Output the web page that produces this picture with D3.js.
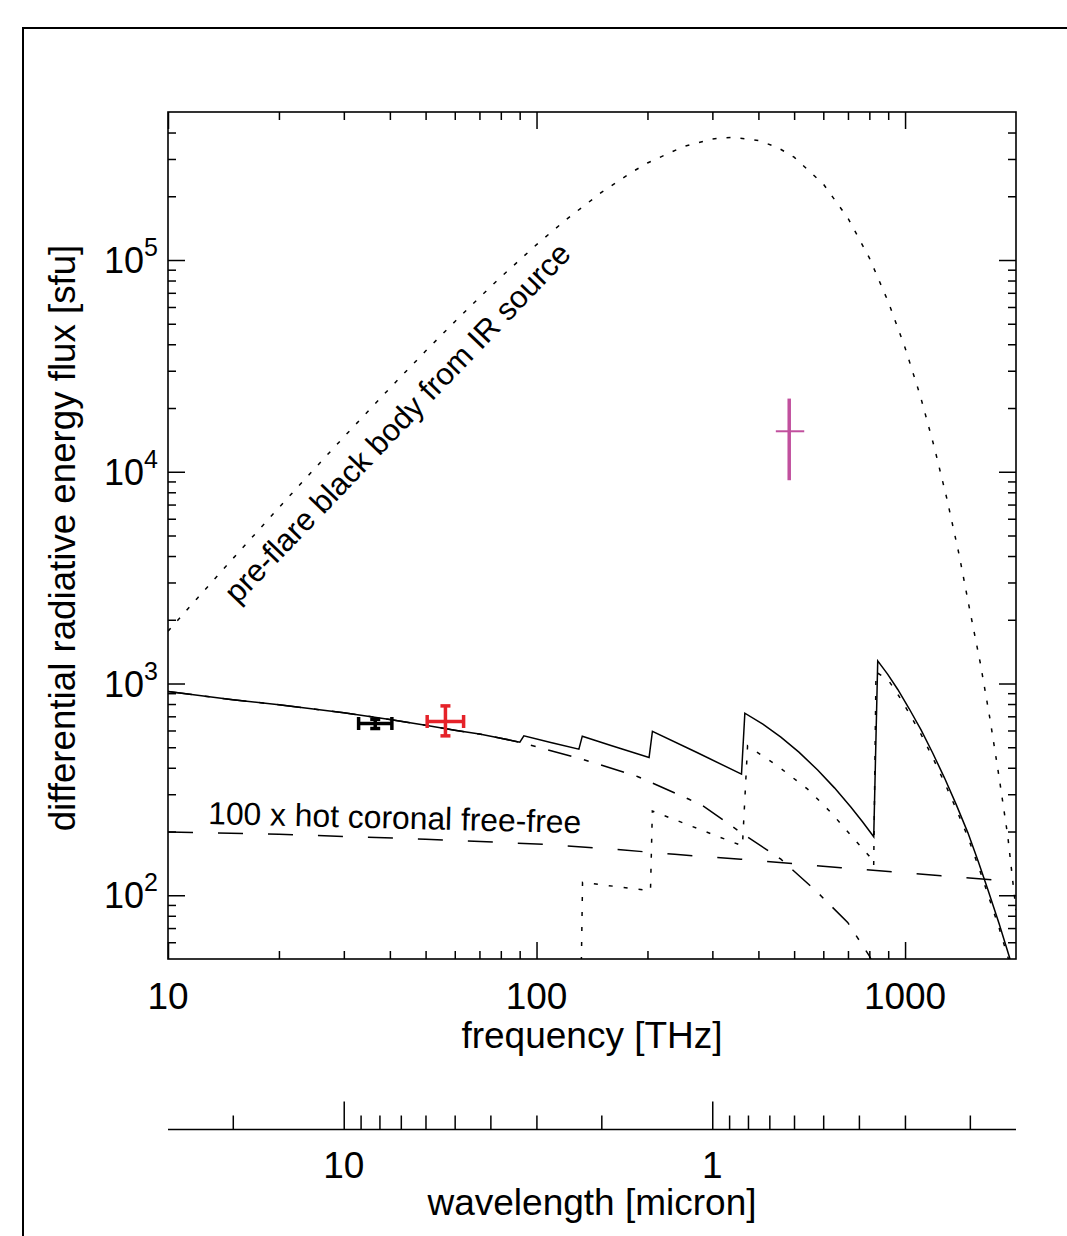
<!DOCTYPE html>
<html><head><meta charset="utf-8">
<script src="https://cdn.jsdelivr.net/npm/d3@7"></script>
<style>
html,body{margin:0;padding:0;background:#fff;}
svg{display:block;font-family:"Liberation Sans",Arial,Helvetica,sans-serif;}
</style></head><body>
<svg id="chart" width="1067" height="1236"></svg>
<script>
// ---- data (frequency in THz, flux in sfu) ----
const bbFreq = [10,12,15,20,25,30,40,50,60,70,80,100,120,150,180,200,250,300,340,400,450,500,600,700,800,900,1000,1100,1200,1300,1400,1500,1600,1700,1800,1900,2000];
const bbFlux = [1766,2522,3891,6771,10355,14594,24836,37140,51146,66538,83018,118168,154668,208578,257972,287086,342880,373045,379906,366847,340658,305983,228497,157562,102366,63549,38500,22800,13100,7400,4100,2200,1250,680,360,190,85];

const totFreq = [10,15,20,30,40,50,60,70,80,90.1,92.4,110,130.3,133.1,160,202,206.3,273.4,359.9,367.5,411.3,460.3,515.2,579.2,643.4,713.4,766.5,822.2,843,896.6,955.5,1025.4,1105,1187.6,1279,1376,1481,1579,1678,1800,1921,1990];
const totFlux = [917,838,794,728,676,635,602,577,552,528,566,525,490,564,508,447,595,471,373,724,643,558,474,390.5,321.5,260.3,222.3,188.9,1279,1107,937,762,603.4,470.9,358.6,268.7,197.1,144.9,106.3,73.4,50.8,40];

const ffFreq = [10,15,20,30,40,50,60,70,80,90.5,133.1,187.8,259.3,284.3,358.4,460.3,579.2,698.8,799.8,860];
const ffFlux = [917,838,794,728,676,635,602,577,552,527,439,364,284,263,198,148,103,74.4,51.7,40];

const bfFreq = [131.8,133.3,203.8,206.2,362,373.8,451,544,629.5,728.2,800,822,834,896.6,955.5,1025.4,1105,1187.6,1279,1376,1481,1579,1678,1800,1921,1990];
const bfFlux = [30,115,105,250,171,508,408,317,246,184,153,138,1131,1050,890,725,575,448,341,256,188,138,101,70,48,38];

const corFreq = [10,20,50,104.5,169.2,237,358.4,670,1252.5,1767,1800];
const corFlux = [199,194,184,174,164,156,148,135,123.5,118,117.5];

// observations
const obsFreq   = [36.5, 56.6, 484.9];
const obsFreqLo = [32.9, 50.5, 446];
const obsFreqHi = [40.5, 63.4, 532.6];
const obsFlux   = [647.5, 661.7, 15530];
const obsFluxLo = [613, 566, 9120];
const obsFluxHi = [678, 784, 22160];
const obsColor  = ["#000000", "#e52229", "#c1509e"];
const obsCaps   = [true, true, false];

// ticks
const xMajor = [10,100,1000];
const xMinor = [20,30,40,50,60,70,80,90,200,300,400,500,600,700,800,900];
const yMajor = [100,1000,10000,100000];
const yMinor = [60,70,80,90,200,300,400,500,600,700,800,900,2000,3000,4000,5000,6000,7000,8000,9000,20000,30000,40000,50000,60000,70000,80000,90000,200000,300000,400000];
const yExp = [2,3,4,5];
const lamMajor = [10,1];
const lamMinor = [20,9,8,7,6,5,4,3,2,0.9,0.8,0.7,0.6,0.5,0.4,0.3,0.2];
const lamLabels = ["10","1"];

// ---- drawing ----
const svg = d3.select("#chart");
const L=168, R=1016, T=112, B=959;
const x = d3.scaleLog().domain([10,2000]).range([L,R]);
const y = d3.scaleLog().domain([50,5e5]).range([B,T]);
const cTHz = 299.792458;
const xl = d3.scaleLog().domain([cTHz/10, cTHz/2000]).range([L,R]);

// outer frame
svg.append("path").attr("d","M23,1236V28H1067").attr("fill","none").attr("stroke","#000").attr("stroke-width",2);

// plot box
svg.append("rect").attr("x",L).attr("y",T).attr("width",R-L).attr("height",B-T)
  .attr("fill","none").attr("stroke","#000").attr("stroke-width",1.6);

function addAxis(gen, tr){
  const a = svg.append("g").attr("transform",tr).call(gen);
  a.select(".domain").remove();
  a.selectAll("text").remove();
  a.selectAll("line").attr("stroke","#000").attr("stroke-width",1.5);
}
addAxis(d3.axisBottom(x).tickValues(xMajor).tickSize(-17).tickSizeOuter(0), `translate(0,${B})`);
addAxis(d3.axisBottom(x).tickValues(xMinor).tickSize(-8).tickSizeOuter(0), `translate(0,${B})`);
addAxis(d3.axisTop(x).tickValues(xMajor).tickSize(-17).tickSizeOuter(0), `translate(0,${T})`);
addAxis(d3.axisTop(x).tickValues(xMinor).tickSize(-8).tickSizeOuter(0), `translate(0,${T})`);
addAxis(d3.axisLeft(y).tickValues(yMajor).tickSize(-17).tickSizeOuter(0), `translate(${L},0)`);
addAxis(d3.axisLeft(y).tickValues(yMinor).tickSize(-8).tickSizeOuter(0), `translate(${L},0)`);
addAxis(d3.axisRight(y).tickValues(yMajor).tickSize(-17).tickSizeOuter(0), `translate(${R},0)`);
addAxis(d3.axisRight(y).tickValues(yMinor).tickSize(-8).tickSizeOuter(0), `translate(${R},0)`);

// x tick labels
xMajor.forEach(v=>{
  svg.append("text").attr("x",x(v)).attr("y",1009).attr("text-anchor","middle")
    .attr("font-size",37).text(String(v));
});
svg.append("text").attr("x",(L+R)/2).attr("y",1047.5).attr("text-anchor","middle")
  .attr("font-size",37).text("frequency [THz]");

// y tick labels
yMajor.forEach((v,i)=>{
  const t = svg.append("text").attr("x",158).attr("y",y(v)+13).attr("text-anchor","end").attr("font-size",36);
  t.append("tspan").text("10");
  t.append("tspan").attr("dy",-17).attr("font-size",25).text(String(yExp[i]));
});
svg.append("text").attr("transform","translate(75,538) rotate(-90)").attr("text-anchor","middle")
  .attr("font-size",36.7).text("differential radiative energy flux [sfu]");

// wavelength axis
svg.append("line").attr("x1",L).attr("x2",R).attr("y1",1129.5).attr("y2",1129.5).attr("stroke","#000").attr("stroke-width",1.5);
addAxis(d3.axisTop(xl).tickValues(lamMajor).tickSize(28).tickSizeOuter(0), `translate(0,1129.5)`);
addAxis(d3.axisTop(xl).tickValues(lamMinor).tickSize(14).tickSizeOuter(0), `translate(0,1129.5)`);
lamMajor.forEach((v,i)=>{
  svg.append("text").attr("x",xl(v)).attr("y",1178).attr("text-anchor","middle").attr("font-size",37).text(lamLabels[i]);
});
svg.append("text").attr("x",(L+R)/2).attr("y",1215).attr("text-anchor","middle")
  .attr("font-size",37).text("wavelength [micron]");

// curves
svg.append("clipPath").attr("id","plotclip").append("rect").attr("x",L).attr("y",T).attr("width",R-L).attr("height",B-T);
const curves = svg.append("g").attr("clip-path","url(#plotclip)");
const line = d3.line().x(d=>x(d[0])).y(d=>y(d[1]));
function curve(fx, fy, dash, w){
  curves.append("path").datum(fx.map((f,i)=>[f,fy[i]])).attr("d",line)
    .attr("fill","none").attr("stroke","#000").attr("stroke-width",w)
    .attr("stroke-dasharray",dash);
}
curve(corFreq, corFlux, "25,25", 1.5);
curve(ffFreq, ffFlux, "24,13,5,13", 1.5);
curve(bfFreq, bfFlux, "4,11", 1.5);
curve(bbFreq, bbFlux, "4,10", 1.5);
curve(totFreq, totFlux, null, 1.5);

// labels inside plot
svg.append("text").attr("transform","translate(208,824) rotate(1.4)").attr("font-size",31.8)
  .text("100 x hot coronal free-free");
svg.append("text").attr("transform","translate(405,430) rotate(-46.2)").attr("text-anchor","middle")
  .attr("font-size",31).text("pre-flare black body from IR source");

// observations with error bars
const obs = svg.append("g");
obsFreq.forEach((f,i)=>{
  const c = obsColor[i];
  const cx = x(f), cy = y(obsFlux[i]);
  const x0 = x(obsFreqLo[i]), x1 = x(obsFreqHi[i]);
  const y0 = y(obsFluxLo[i]), y1 = y(obsFluxHi[i]);
  if (obsCaps[i]) {
    obs.append("line").attr("x1",x0).attr("x2",x1).attr("y1",cy).attr("y2",cy).attr("stroke",c).attr("stroke-width",3.5);
    obs.append("line").attr("x1",cx).attr("x2",cx).attr("y1",y0).attr("y2",y1).attr("stroke",c).attr("stroke-width",3.5);
    [x0,x1].forEach(xx=>obs.append("line").attr("x1",xx).attr("x2",xx).attr("y1",cy-6.5).attr("y2",cy+6.5).attr("stroke",c).attr("stroke-width",3.5));
    [y0,y1].forEach(yy=>obs.append("line").attr("x1",cx-5).attr("x2",cx+5).attr("y1",yy).attr("y2",yy).attr("stroke",c).attr("stroke-width",3.5));
  } else {
    obs.append("line").attr("x1",x0).attr("x2",x1).attr("y1",cy).attr("y2",cy).attr("stroke",c).attr("stroke-width",2);
    obs.append("line").attr("x1",cx).attr("x2",cx).attr("y1",y0).attr("y2",y1).attr("stroke",c).attr("stroke-width",3.5);
  }
});
</script>
</body></html>
